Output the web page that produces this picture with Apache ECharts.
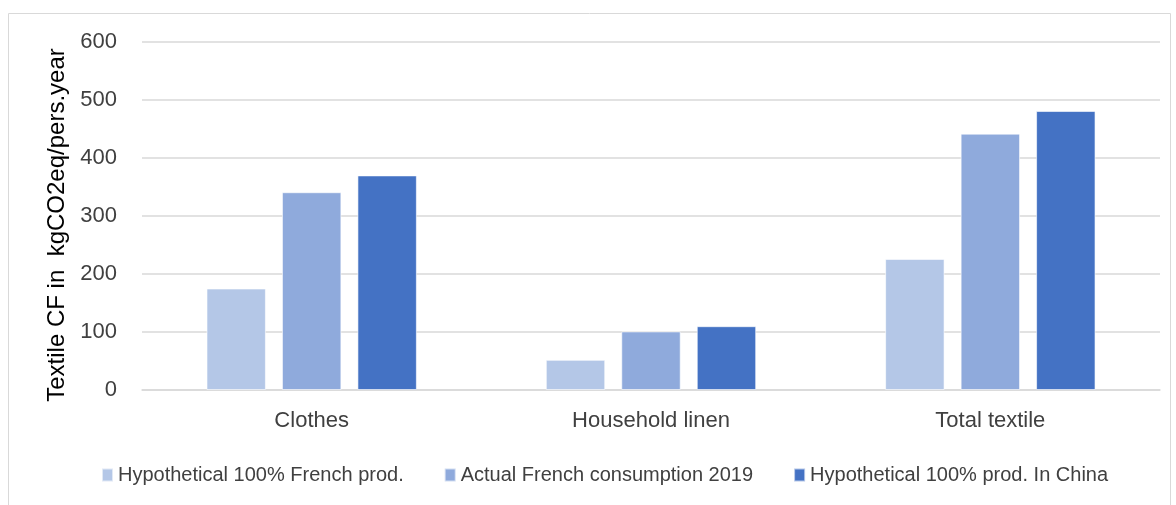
<!DOCTYPE html>
<html>
<head>
<meta charset="utf-8">
<script src="https://cdn.jsdelivr.net/npm/echarts@6/dist/echarts.min.js"></script>
<style>
  html, body { margin: 0; padding: 0; background: #fff; }
  #chart { width: 1176px; height: 505px; }
</style>
</head>
<body>
<div id="chart"></div>
<script>
// categories and values
const categories = ['Clothes', 'Household linen', 'Total textile']
const frenchProd = [175, 52, 226]
const actual2019 = [341, 101, 442]
const chinaProd = [370, 110, 481]
const seriesNames = ['Hypothetical 100% French prod.', 'Actual French consumption 2019', 'Hypothetical 100% prod. In China']
const colors = ['#b4c7e7', '#8faadc', '#4472c4']

const font = 'Liberation Sans'
let chart = echarts.init(document.getElementById('chart'))

function bar(name, data, color) {
  return {
    name: name,
    type: 'bar',
    data: data,
    barGap: '27%',
    barCategoryGap: '38%',
    itemStyle: { color: color, borderColor: 'rgba(255,255,255,0.6)', borderWidth: 1 }
  }
}

const option = {
  animation: false,
  color: colors,
  graphic: [{
    type: 'rect',
    left: 6, top: 11,
    shape: { width: 1162, height: 500 },
    style: { fill: 'none', stroke: '#d9d9d9', lineWidth: 1 }
  }],
  legend: {
    bottom: 15,
    left: 96,
    itemWidth: 11,
    itemHeight: 13,
    itemGap: 40,
    icon: 'rect',
    textStyle: { fontFamily: font, fontSize: 20, color: '#404040' },
    data: seriesNames
  },
  grid: { left: 142, right: 16, top: 42, bottom: 115 },
  xAxis: {
    type: 'category',
    data: categories,
    axisTick: { show: false },
    axisLine: { lineStyle: { color: '#d9d9d9', width: 1.5 } },
    axisLabel: { fontFamily: font, fontSize: 22, color: '#404040', margin: 20 }
  },
  yAxis: {
    type: 'value',
    min: 0, max: 600, interval: 100,
    name: 'Textile CF in  kgCO2eq/pers.year',
    nameLocation: 'middle',
    nameGap: 70,
    nameTextStyle: { fontFamily: font, fontSize: 24, color: '#000', padding: [0, 18, 0, 0] },
    axisLabel: { fontFamily: font, fontSize: 22, color: '#404040', margin: 25 },
    splitLine: { lineStyle: { color: '#d9d9d9', width: 1.5 } }
  },
  series: [
    bar(seriesNames[0], frenchProd, colors[0]),
    bar(seriesNames[1], actual2019, colors[1]),
    bar(seriesNames[2], chinaProd, colors[2])
  ]
}

chart.setOption(option)
</script>
</body>
</html>
